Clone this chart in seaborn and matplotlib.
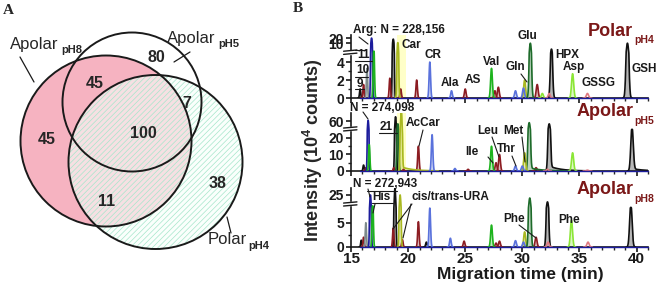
import numpy as np
import pandas as pd
import matplotlib
matplotlib.use("Agg")
import matplotlib.pyplot as plt
import seaborn as sns
from matplotlib.patches import Circle, Rectangle
from matplotlib.lines import Line2D

# ---- data -------------------------------------------------------------
# Venn counts (region order: pH8 only, pH8&pH5, pH5 only, pH5&pH4, all, pH4 only, pH8&pH4)
venn_counts = [45, 45, 80, 7, 100, 38, 11]
venn_names = ["Apolar", "Apolar", "Polar"]
venn_subs = ["pH8", "pH5", "pH4"]

# electropherogram peaks: migration time (min), height (10^4 counts), trace colour, tailing
pol4_t = [15.8, 16.1, 16.4, 16.8, 17.0, 18.4, 18.7, 19.1, 19.35, 20.75, 21.9, 23.8, 25.0, 27.3,
          27.6, 27.9, 29.4, 30.1, 30.2, 30.7, 31.3, 31.75, 32.35, 32.55, 34.4, 35.7, 39.2]
pol4_h = [1.0, 1.5, 3.3, 20, 6, 2.2, 18, 11, 1.0, 2.0, 4.0, 0.8, 1.0, 3.3,
          0.8, 1.2, 0.8, 1.1, 2.0, 10, 1.5, 0.5, 0.5, 7, 2.7, 0.5, 10]
pol4_c = ["k", "dr", "gy", "nv", "gr", "dr", "k", "ol", "dr", "dr", "bl", "bl", "dr", "gr",
          "dr", "dr", "bl", "bl", "ol", "dg", "dr", "li", "pk", "k", "li", "pk", "k"]
pol4_tail = [0] * len(pol4_t)

apo5_t = [16.1, 16.3, 16.5, 16.6, 18.75, 18.9, 19.1, 19.4, 19.6, 20.9, 22.1, 24.1, 25.25,
          27.3, 27.7, 28.0, 29.4, 30.0, 30.2, 30.6, 31.2, 32.2, 32.35, 34.4, 35.7, 39.6]
apo5_h = [3.6, 2, 65, 16, 2, 80, 50, 110, 1, 15, 22, 1.5, 1,
          15, 5, 10, 3, 3, 11, 55, 2, 1, 50, 11, 0.5, 27]
apo5_c = ["k", "dr", "nv", "gr", "dr", "k", "dg", "ol", "dr", "dr", "bl", "bl", "dr",
          "gr", "dr", "dr", "bl", "bl", "ol", "dg", "dr", "pk", "k", "li", "pk", "k"]
apo5_tail = [0, 0, 0, 0, 0, 0, 0, 2.5, 0, 0, 0, 0, 0,
             0, 0, 0, 0, 0, 0, 2, 0, 0, 3, 0, 0, 1.5]

apo8_t = [15.9, 16.1, 16.3, 16.7, 16.9, 18.7, 18.85, 19.3, 19.5, 20.9, 21.6, 21.9, 23.7, 24.9,
          27.3, 27.7, 28.0, 29.4, 30.1, 30.2, 30.65, 31.2, 32.2, 32.25, 34.3, 35.75, 39.5]
apo8_h = [1.4, 2, 5, 25, 11, 3.9, 34, 25, 1.5, 5.2, 1, 8, 1.8, 1.2,
          4.5, 0.8, 1.2, 1.3, 1, 3.1, 21, 2, 16, 1, 5.5, 1, 9]
apo8_c = ["k", "dr", "gy", "nv", "gr", "dr", "k", "ol", "dr", "dr", "k", "bl", "bl", "dr",
          "gr", "dr", "dr", "bl", "bl", "ol", "dg", "dr", "k", "pk", "li", "pk", "k"]
apo8_tail = [0] * len(apo8_t)

highlight = [19.0, 19.8]

colors = {"k": "#111111", "nv": "#1c1c9c", "bl": "#5a72dc", "gr": "#1db31d", "li": "#8be636",
          "dg": "#1e6b2a", "ol": "#a9b820", "dr": "#8c1c22", "pk": "#e07a80", "gy": "#7d8a8a"}
maroon = "#7b1818"

# ---- style ------------------------------------------------------------
sns.set_theme(style="ticks")
plt.rcParams["font.family"] = ["Liberation Sans", "DejaVu Sans"]
plt.rcParams["font.weight"] = "bold"
plt.rcParams["mathtext.fontset"] = "custom"
plt.rcParams["mathtext.rm"] = "Liberation Sans:bold"
plt.rcParams["mathtext.bf"] = "Liberation Sans:bold"
plt.rcParams["hatch.linewidth"] = 0.5

W, H = 661, 284
fig = plt.figure(figsize=(W / 100, H / 100), dpi=100)


def fx(x):
    return x / W


def fy(y):
    return 1 - y / H


def txt(s, x, y, size=8.5, ha="left", color="k", weight="bold", **kw):
    fig.text(fx(x), fy(y), s, ha=ha, va="center", fontsize=size, color=color,
             fontweight=weight, **kw)


def seg(x0, y0, x1, y1, lw=0.8):
    fig.add_artist(Line2D([fx(x0), fx(x1)], [fy(y0), fy(y1)], color="k", lw=lw,
                          transform=fig.transFigure))


# ---- A: Venn ----------------------------------------------------------
av = fig.add_axes([0, 0, 0.5, 1])
av.set_xlim(0, W / 2)
av.set_ylim(H, 0)
av.axis("off")
av.add_patch(Circle((106, 141), 85.5, facecolor="#f6b3c1", edgecolor="none"))
av.add_patch(Circle((155.5, 162), 87, facecolor=(0.97, 1, 0.98, 0.6), edgecolor="#a6e6cb",
                    hatch="//////", lw=0))
for (cx, cy), r in [((106, 141), 85.5), ((132, 102), 69.5), ((155.5, 162), 87)]:
    av.add_patch(Circle((cx, cy), r, facecolor="none", edgecolor="k", lw=1.4))

count_pos = [(47, 139), (95, 83), (156, 58), (187, 103), (143, 133), (218, 183), (107, 202)]
for n, (x, y) in zip(venn_counts, count_pos):
    av.text(x, y, str(n), ha="center", va="center", fontsize=11.5, fontweight="bold")

label_pos = [(10, 45, 61, 50), (167, 39, 218, 44), (208, 240, 248, 246)]
for name, sub, (x, y, xs, ys) in zip(venn_names, venn_subs, label_pos):
    av.text(x, y, name, ha="left", va="center", fontsize=12, fontweight="normal")
    av.text(xs, ys, sub, ha="left", va="center", fontsize=8, fontweight="bold")
av.plot([20, 34], [57, 82], color="k", lw=0.9)
av.plot([190, 174], [52, 62], color="k", lw=0.9)
av.plot([227, 231], [217, 233], color="k", lw=0.9)

fig.text(fx(3), fy(11), "A", fontsize=11, fontweight="bold", family="Liberation Serif",
         va="center")
fig.text(fx(293), fy(8), "B", fontsize=11, fontweight="bold", family="Liberation Serif",
         va="center")

# ---- B: electropherograms ----------------------------------------------


def piecewise(bk, mp):
    bk = np.asarray(bk, float)
    mp = np.asarray(mp, float)
    s0 = (mp[1] - mp[0]) / (bk[1] - bk[0])
    s1 = (mp[-1] - mp[-2]) / (bk[-1] - bk[-2])
    bx = np.r_[bk[0] - 1e4, bk, bk[-1] + 1e4]
    mx = np.r_[mp[0] - 1e4 * s0, mp, mp[-1] + 1e4 * s1]
    return (lambda v: np.interp(v, bx, mx)), (lambda v: np.interp(v, mx, bx))


grid = np.linspace(15.2, 41, 4000)


def trace(t0, h, tail):
    s = 0.05 + 0.0022 * (t0 - 15)
    y = h * np.exp(-0.5 * ((grid - t0) / s) ** 2)
    if tail:
        d = np.clip(grid - t0, 0, None)
        y = y + tail * np.exp(-d / 1.0) * (1 - np.exp(-(d / s) ** 2))
    keep = (grid > t0 - 4 * s) & (grid < t0 + 4 * s + (3.0 if tail else 0))
    return grid[keep], y[keep]


panels = [
    dict(t=pol4_t, h=pol4_h, c=pol4_c, tail=pol4_tail, name="Polar", sub="pH4",
         bk=[0, 5, 10, 20], mp=[0, 5, 6.1, 6.67], ylim=(0, 26), yt=[0, 2, 4, 10, 20],
         ym=[1, 3], brk=5.1, pos=[351 / W, 1 - 98 / H, 297 / W, 63 / H], lab=(31, 40), hl=True),
    dict(t=apo5_t, h=apo5_h, c=apo5_c, tail=apo5_tail, name="Apolar", sub="pH5",
         bk=[0, 25, 60], mp=[0, 25, 30], ylim=(0, 96), yt=[0, 10, 20, 60],
         ym=[5, 15], brk=25.5, pos=[351 / W, 1 - 171 / H, 297 / W, 58 / H], lab=(111, 121), hl=True),
    dict(t=apo8_t, h=apo8_h, c=apo8_c, tail=apo8_tail, name="Apolar", sub="pH8",
         bk=[0, 8, 25], mp=[0, 8, 10.7], ylim=(0, 34), yt=[0, 5, 25],
         ym=[2.5], brk=8.85, pos=[351 / W, 1 - 247 / H, 297 / W, 59 / H], lab=(190, 199), hl=False),
]

for i, p in enumerate(panels):
    ax = fig.add_axes(p["pos"])
    fwd, inv = piecewise(p["bk"], p["mp"])
    ax.set_yscale("function", functions=(fwd, inv))
    ax.set_xlim(15, 41)
    ax.set_ylim(*p["ylim"])
    if p["hl"]:
        ax.axvspan(*highlight, color="#ffffc8", lw=0, zorder=0)

    parts = []
    for j, (t0, h, c, tl) in enumerate(zip(p["t"], p["h"], p["c"], p["tail"])):
        tt, yy = trace(t0, h, tl)
        if c != "pk":
            ax.fill_between(tt, yy, 0, color=colors[c], alpha=0.3, lw=0, zorder=2)
        parts.append(pd.DataFrame({"t": tt, "I": yy, "col": c, "peak": j}))
    d = pd.concat(parts, ignore_index=True)
    sns.lineplot(data=d, x="t", y="I", hue="col", units="peak", estimator=None,
                 palette=colors, legend=False, linewidth=1.2, sort=False, ax=ax, zorder=3)
    ax.axhline(0, xmin=0.03, color=colors["nv"], lw=1.0, zorder=4, clip_on=False)

    ax.set_xticks(range(15, 41, 5))
    ax.set_xticks(range(15, 42), minor=True)
    ax.set_yticks(p["yt"])
    ax.set_yticklabels([str(v) for v in p["yt"]])
    ax.set_yticks(p["ym"], minor=True)
    ax.tick_params(axis="both", which="major", direction="out", length=3.5, width=1.2,
                   pad=1.5, labelsize=10, colors="k")
    ax.tick_params(axis="both", which="minor", direction="out", length=2, width=1)
    ax.tick_params(axis="x", labelsize=11, pad=0)
    if i < 2:
        ax.tick_params(axis="x", labelbottom=False)
    ax.set_xlabel("")
    ax.set_ylabel("")
    sns.despine(ax=ax)
    for sp in ["left", "bottom"]:
        ax.spines[sp].set_linewidth(1.2)
        ax.spines[sp].set_color("k")

    # axis break mark
    lo, hi = fwd(p["ylim"][0]), fwd(p["ylim"][1])
    f = (p["brk"] - lo) / (hi - lo)
    ax.add_patch(Rectangle((-0.012, f - 0.025), 0.024, 0.05, transform=ax.transAxes,
                           color="white", clip_on=False, zorder=5))
    for off in (-0.025, 0.025):
        ax.plot([-0.025, 0.02], [f + off - 0.01, f + off + 0.01], color="k", lw=1,
                transform=ax.transAxes, clip_on=False, zorder=6)

    txt(p["name"], 577 if p["name"] == "Apolar" else 588, p["lab"][0], size=13, color=maroon)
    txt(p["sub"], 634, p["lab"][1], size=7.5, color=maroon)

# peak labels, top panel
txt("Arg: N = 228,156", 353, 30)
seg(359, 37, 368, 44)
txt("11", 357, 55)
seg(355, 50, 366, 50)
seg(355, 61, 372, 61)
txt("10", 356, 70)
seg(355, 77, 368, 77)
txt("9", 357, 84)
seg(355, 89, 364, 89)
for s, x, y in [("Car", 402, 45), ("CR", 425, 55), ("Ala", 441, 83), ("AS", 465, 80),
                ("Val", 483, 62), ("Gln", 505, 67), ("Glu", 517, 36), ("HPX", 555, 55),
                ("Asp", 563, 67), ("GSSG", 582, 83), ("GSH", 632, 69)]:
    txt(s, x, y)
seg(521, 74, 527, 82)

# middle panel
txt("N = 274,098", 350, 108)
seg(363, 112, 368, 119)
txt("21", 380, 127)
seg(379, 133, 397, 133)
txt("AcCar", 406, 123)
seg(423, 130, 419, 146)
txt("Ile", 465, 152)
seg(488, 157, 493, 163)
txt("Leu", 477, 131)
seg(492, 137, 499, 157)
txt("Thr", 497, 149)
seg(512, 156, 516, 166)
txt("Met", 503, 131)
seg(522, 137, 525, 162)

# bottom panel
txt("N = 272,943", 353, 184)
seg(368, 189, 370, 197)
txt("His", 372, 197)
seg(367, 191, 397, 191)
seg(372, 203, 393, 203)
seg(375, 204, 373, 213)
txt("cis/trans-URA", 412, 197)
seg(412, 204, 393, 229)
seg(411, 204, 403, 238)
txt("Phe", 503, 219)
seg(519, 225, 536, 238)
txt("Phe", 558, 220)

txt("Migration time (min)", 520, 274.5, size=12.5, ha="center")
fig.text(fx(313), fy(150), r"Intensity (10$^{4}$ counts)", rotation=90, ha="center",
         va="center", fontsize=13, fontweight="bold")

fig.savefig("out.png", dpi=100)
